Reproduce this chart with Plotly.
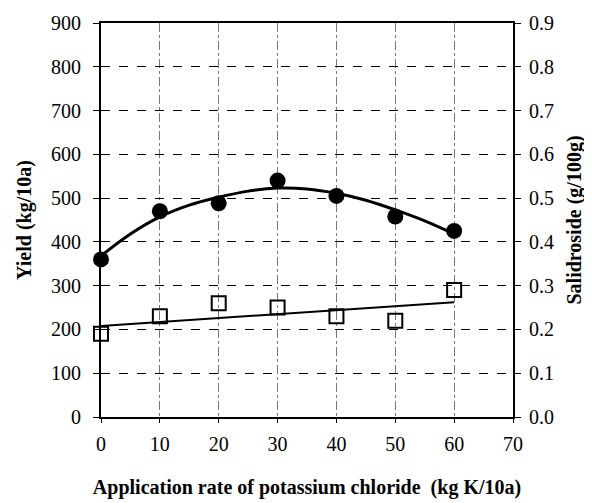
import plotly.graph_objects as go

rate = [0, 10, 20, 30, 40, 50, 60]
yield_obs = [360, 470, 488, 540, 505, 458, 425]
salid_obs = [0.19, 0.23, 0.26, 0.25, 0.23, 0.22, 0.29]

fit_x = [0, 5, 10, 15, 20, 25, 30, 35, 40, 45, 50, 55, 60]
yield_fit = [368, 418, 457, 484, 502, 516, 523, 521, 511, 495, 473, 448, 418]
salid_fit_x = [0, 60]
salid_fit = [0.208, 0.262]

x_ticks = [0, 10, 20, 30, 40, 50, 60, 70]
y_ticks = [0, 100, 200, 300, 400, 500, 600, 700, 800, 900]
y2_ticks = [0.0, 0.1, 0.2, 0.3, 0.4, 0.5, 0.6, 0.7, 0.8, 0.9]

font = "Liberation Serif"
tick_size = 20
title_size = 20

fig = go.Figure()
fig.add_trace(go.Scatter(x=fit_x, y=yield_fit, mode="lines", line=dict(color="black", width=3, shape="spline"),
                         showlegend=False, cliponaxis=False))
fig.add_trace(go.Scatter(x=rate, y=yield_obs, mode="markers",
                         marker=dict(symbol="circle", size=16, color="black"),
                         showlegend=False, cliponaxis=False))
fig.add_trace(go.Scatter(x=salid_fit_x, y=salid_fit, mode="lines", line=dict(color="black", width=2),
                         showlegend=False, yaxis="y2", cliponaxis=False))
fig.add_trace(go.Scatter(x=rate, y=salid_obs, mode="markers",
                         marker=dict(symbol="square-open", size=14, color="black", line=dict(width=2)),
                         showlegend=False, yaxis="y2", cliponaxis=False))

fig.update_layout(
    width=592, height=503,
    margin=dict(l=93, r=87, t=15, b=94),
    paper_bgcolor="white", plot_bgcolor="white",
    font=dict(family=font, color="black", size=tick_size),
    xaxis=dict(range=[0, 70], tickvals=x_ticks, ticks="outside", ticklen=4, tickcolor="black",
               showline=True, linecolor="black", linewidth=2, mirror=True, automargin=False,
               showgrid=True, gridcolor="#777", gridwidth=1, griddash="dashdot",
               zeroline=False, tickfont=dict(size=tick_size, family=font), ticklabelstandoff=4,
               title=dict(text="<b>Application rate of potassium chloride  (kg K/10a)</b>",
                          font=dict(size=title_size, family=font), standoff=26)),
    yaxis=dict(range=[0, 900], tickvals=y_ticks, ticks="outside", ticklen=6, tickcolor="black",
               showline=True, linecolor="black", linewidth=2, automargin=False,
               showgrid=True, gridcolor="black", gridwidth=1, griddash="dash",
               zeroline=False, tickfont=dict(size=tick_size, family=font), ticklabelstandoff=8,
               title=dict(text="<b>Yield (kg/10a)</b>", font=dict(size=title_size, family=font), standoff=14)),
    yaxis2=dict(range=[0, 0.9], tickvals=y2_ticks, tickformat=".1f", overlaying="y", side="right",
                ticks="outside", ticklen=6, tickcolor="black", automargin=False,
                showline=True, linecolor="black", linewidth=2,
                showgrid=False, zeroline=False, tickfont=dict(size=tick_size, family=font), ticklabelstandoff=4,
                title=dict(text="<b>Salidroside (g/100g)</b>", font=dict(size=title_size, family=font), standoff=14)),
)

fig.write_html("out.html")
